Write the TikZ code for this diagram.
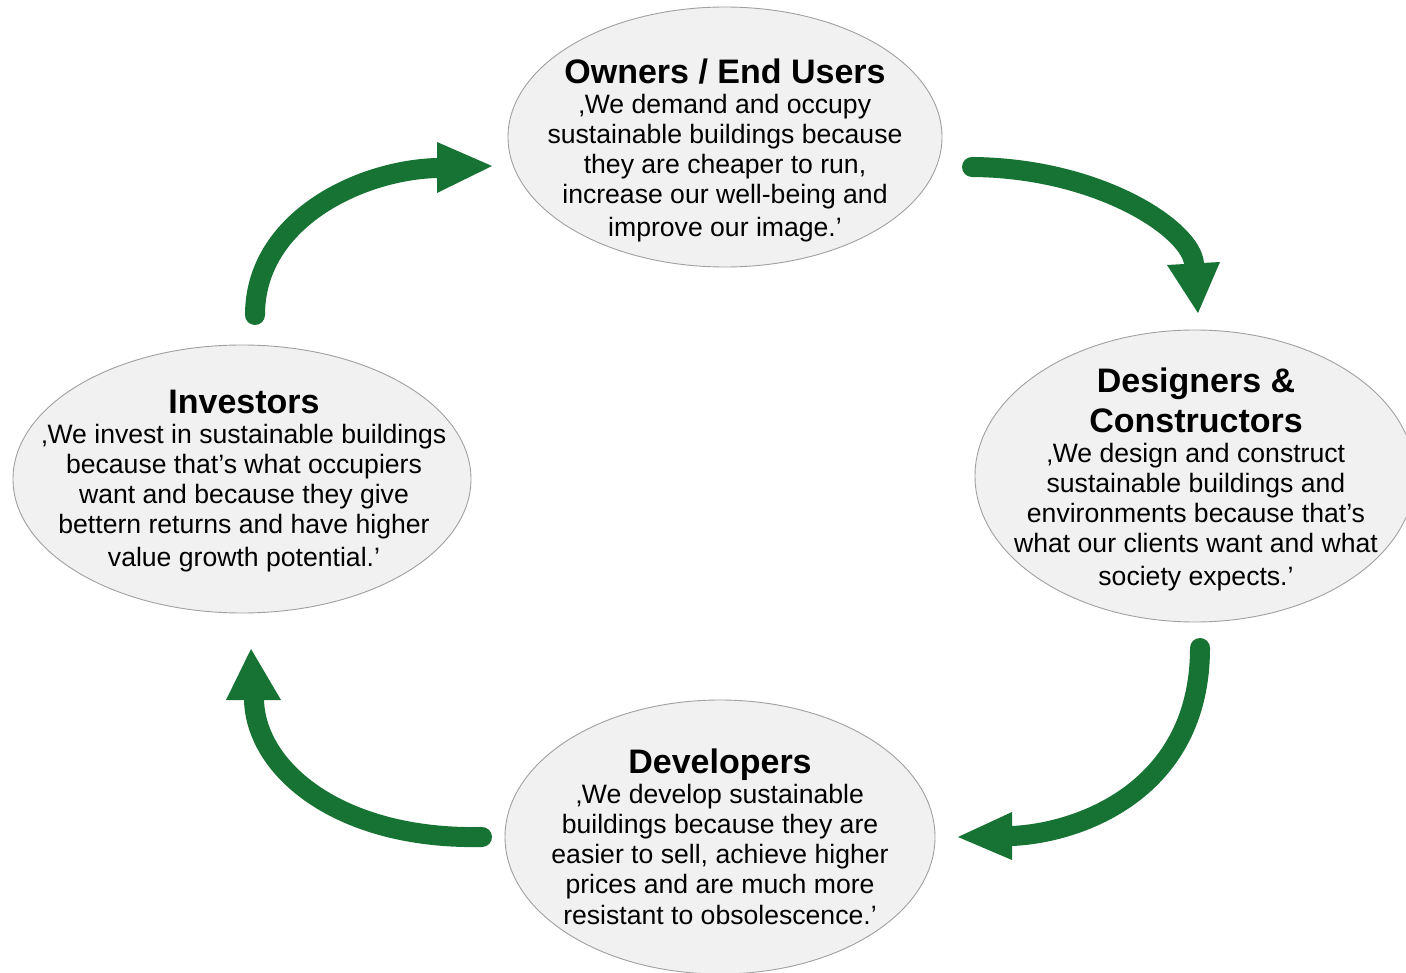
\documentclass[tikz,border=0pt]{standalone}
\usepackage{fontspec}
\setmainfont{Liberation Sans}
\usetikzlibrary{shapes.geometric}
\definecolor{arrowgreen}{RGB}{22,115,52}
\definecolor{ellfill}{RGB}{241,241,241}
\definecolor{ellline}{RGB}{160,160,160}
\newcommand\ttlfont{\fontsize{34}{38}\selectfont\bfseries}
\begin{document}
\begin{tikzpicture}[x=1pt,y=-1pt,
  bubble/.style={ellipse, draw=ellline, line width=0.9pt, fill=ellfill, inner sep=0pt},
  bubbletext/.style={align=center, inner sep=0pt, font=\fontsize{26.6}{30}\selectfont, text=black},
  shaft/.style={draw=arrowgreen, line width=20pt, line cap=round},
  head/.style={fill=arrowgreen}
]
\useasboundingbox (0,0) rectangle (1406,973);

% bubbles
\node[bubble, minimum width=434pt, minimum height=260pt] (owners) at (725,137) {};
\node[bubble, minimum width=440pt, minimum height=292pt] (designers) at (1195,476) {};
\node[bubble, minimum width=458pt, minimum height=268pt] (investors) at (242,479) {};
\node[bubble, minimum width=430pt, minimum height=274pt] (developers) at (720,837) {};

% texts
\node[bubbletext] (ownerstext) at (725,150) {{\ttlfont Owners / End Users}\\
‚We demand and occupy\\
sustainable buildings because\\
they are cheaper to run,\\
increase our well-being and\\[3pt]
improve our image.’};

\node[bubbletext] (designerstext) at (1196,479) {{\ttlfont Designers \&}\\[8pt]
{\ttlfont Constructors}\\
‚We design and construct\\
sustainable buildings and\\
environments because that’s\\
what our clients want and what\\[3pt]
society expects.’};

\node[bubbletext] (investorstext) at (244,481) {{\ttlfont Investors}\\
‚We invest in sustainable buildings\\
because that’s what occupiers\\
want and because they give\\
bettern returns and have higher\\[3pt]
value growth potential.’};

\node[bubbletext] (developerstext) at (720,837) {{\ttlfont Developers}\\
‚We develop sustainable\\
buildings because they are\\
easier to sell, achieve higher\\
prices and are much more\\[1pt]
resistant to obsolescence.’};

% arrow coordinates
\coordinate (a1tail) at (972,167);
\coordinate (a1base) at (1194,264);
\coordinate (a1l) at (1167,265);
\coordinate (a1r) at (1220,262);
\coordinate (a1tip) at (1198,313);

\coordinate (a2tail) at (1200,648);
\coordinate (a2base) at (1012,836);
\coordinate (a2l) at (1012,812);
\coordinate (a2r) at (1012,860);
\coordinate (a2tip) at (958,837);

\coordinate (a3tail) at (482,837);
\coordinate (a3base) at (254,700);
\coordinate (a3l) at (226,700);
\coordinate (a3r) at (281,700);
\coordinate (a3tip) at (251,649);

\coordinate (a4tail) at (255,315);
\coordinate (a4base) at (437,168);
\coordinate (a4l) at (437,142);
\coordinate (a4r) at (437,193);
\coordinate (a4tip) at (492,166);

% arrows
\draw[shaft] (a1tail) .. controls (1100,168) and (1192,230) .. (a1base);
\fill[head] (a1l) -- (a1tip) -- (a1r) -- cycle;

\draw[shaft] (a2tail) .. controls (1200,790) and (1080,833) .. (a2base);
\fill[head] (a2l) -- (a2tip) -- (a2r) -- cycle;

\draw[shaft] (a3tail) .. controls (340,840) and (256,770) .. (a3base);
\fill[head] (a3l) -- (a3tip) -- (a3r) -- cycle;

\draw[shaft] (a4tail) .. controls (255,220) and (360,170) .. (a4base);
\fill[head] (a4l) -- (a4tip) -- (a4r) -- cycle;
\end{tikzpicture}
\end{document}
